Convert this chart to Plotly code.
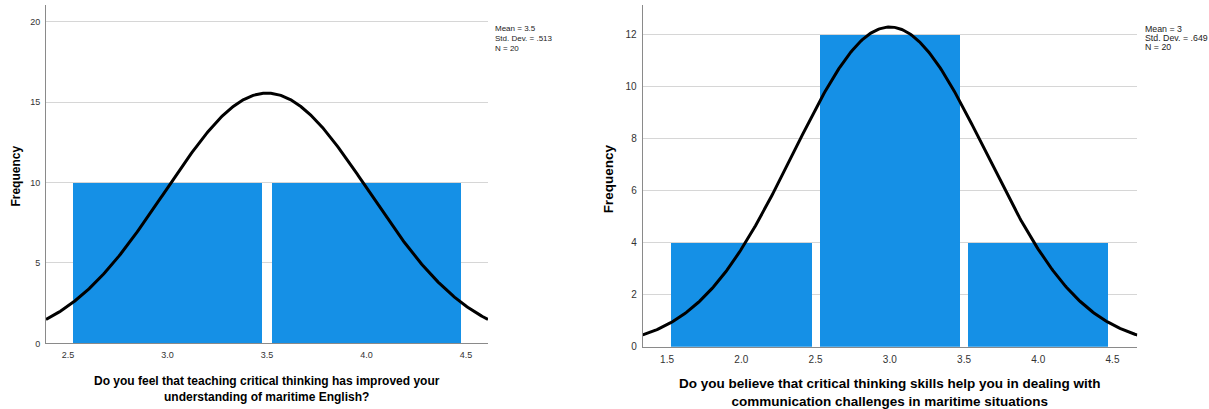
import numpy as np
import plotly.graph_objects as go

W, H = 1209, 409
YK = 1.0153   # small vertical correction measured from the rendered output

# ---------------- data ----------------
# Left histogram
left_bins = [3.0, 4.0]            # bin centres (bins 2.5-3.5, 3.5-4.5)
left_freq = [10, 10]
left_mean, left_sd, left_n = 3.5, 0.513, 20
left_xticks = [2.5, 3.0, 3.5, 4.0, 4.5]
left_yticks = [0, 5, 10, 15, 20]
left_stats = ["Mean = 3.5", "Std. Dev. = .513", "N = 20"]
left_title = "Do you feel that teaching critical thinking has improved your<br>understanding of maritime English?"

# Right histogram
right_bins = [2.0, 3.0, 4.0]
right_freq = [4, 12, 4]
right_mean, right_sd, right_n = 3.0, 0.649, 20
right_xticks = [1.5, 2.0, 2.5, 3.0, 3.5, 4.0, 4.5]
right_yticks = [0, 2, 4, 6, 8, 10, 12]
right_stats = ["Mean = 3", "Std. Dev. = .649", "N = 20"]
right_title = "Do you believe that critical thinking skills help you in dealing with<br>communication challenges in maritime situations"

bin_width = 1.0
y_label = "Frequency"

# ---------------- style / layout constants ----------------
BAR_COLOR = "#1590e6"
GRID = "#d6d6d6"
AXLINE = "#8a8a8a"
TICKC = "#333333"
FONT = "Liberation Sans, Arial, sans-serif"

L_XR = [2.389, 4.611]
L_YR = [0, 21.03]
R_XR = [1.336, 4.667]
R_YR = [0, 13.14]


def px(x):
    return x / W


def py(y):
    return min(1.0, max(0.0, 1 - (y * YK) / H))


def normal_curve(mean, sd, n, xr):
    xs = np.linspace(xr[0], xr[1], 400)
    ys = n * bin_width * np.exp(-0.5 * ((xs - mean) / sd) ** 2) / (sd * np.sqrt(2 * np.pi))
    return xs, ys


fig = go.Figure()

fig.add_trace(go.Bar(x=left_bins, y=left_freq, width=0.946, marker=dict(color=BAR_COLOR, line=dict(width=0)),
                     xaxis="x", yaxis="y", showlegend=False, hoverinfo="skip"))
lx, ly = normal_curve(left_mean, left_sd, left_n, L_XR)
fig.add_trace(go.Scatter(x=lx, y=ly, mode="lines", line=dict(color="black", width=3),
                         xaxis="x", yaxis="y", showlegend=False, hoverinfo="skip"))

fig.add_trace(go.Bar(x=right_bins, y=right_freq, width=0.946, marker=dict(color=BAR_COLOR, line=dict(width=0)),
                     xaxis="x2", yaxis="y2", showlegend=False, hoverinfo="skip"))
rx, ry = normal_curve(right_mean, right_sd, right_n, R_XR)
fig.add_trace(go.Scatter(x=rx, y=ry, mode="lines", line=dict(color="black", width=3),
                         xaxis="x2", yaxis="y2", showlegend=False, hoverinfo="skip"))

common_x = dict(showline=True, linecolor=AXLINE, linewidth=1, showgrid=False, zeroline=False,
                ticks="", tickformat=".1f")
common_y = dict(showline=True, linecolor=AXLINE, linewidth=1, showgrid=True, gridcolor=GRID, gridwidth=1,
                zeroline=False, ticks="")

fig.update_layout(
    width=W, height=H,
    margin=dict(l=0, r=0, t=0, b=0),
    paper_bgcolor="white", plot_bgcolor="white",
    font=dict(family=FONT, color=TICKC),
    bargap=0,
    xaxis=dict(**common_x, domain=[px(46), px(488)], range=L_XR, tickvals=left_xticks,
               tickfont=dict(size=9, color=TICKC), anchor="y", ticklabelstandoff=3),
    yaxis=dict(**common_y, domain=[py(343.3), py(5)], range=L_YR, tickvals=left_yticks,
               tickfont=dict(size=9, color=TICKC), anchor="x", ticklabelstandoff=3),
    xaxis2=dict(**common_x, domain=[px(642.7), px(1137.3)], range=R_XR, tickvals=right_xticks,
                tickfont=dict(size=10, color=TICKC), anchor="y2", ticklabelstandoff=3),
    yaxis2=dict(**common_y, domain=[py(346.7), py(5)], range=R_YR, tickvals=right_yticks,
                tickfont=dict(size=10, color=TICKC), anchor="x2", ticklabelstandoff=3),
)

ann = []
# statistics text
for t, yy in zip(left_stats, [28, 38.5, 48]):
    ann.append(dict(text=t, x=px(493.3), y=py(yy), xref="paper", yref="paper", xanchor="left", yanchor="middle",
                    showarrow=False, font=dict(size=8, color="#222222", family=FONT)))
for t, yy in zip(right_stats, [29.3, 38.3, 47.3]):
    ann.append(dict(text=t, x=px(1143.3), y=py(yy), xref="paper", yref="paper", xanchor="left", yanchor="middle",
                    showarrow=False, font=dict(size=8.8, color="#222222", family=FONT)))
# y titles
ann.append(dict(text="<b>" + y_label + "</b>", x=px(16), y=py(176.5), xref="paper", yref="paper",
                xanchor="center", yanchor="middle", textangle=-90, showarrow=False,
                font=dict(size=12, color="black", family=FONT)))
ann.append(dict(text="<b>" + y_label + "</b>", x=px(608.3), y=py(179), xref="paper", yref="paper",
                xanchor="center", yanchor="middle", textangle=-90, showarrow=False,
                font=dict(size=13.5, color="black", family=FONT)))
# x titles
ann.append(dict(text="<b>" + left_title + "</b>", x=px(267), y=py(388.8), xref="paper", yref="paper",
                xanchor="center", yanchor="middle", showarrow=False,
                font=dict(size=12, color="black", family=FONT)))
ann.append(dict(text="<b>" + right_title + "</b>", x=px(890), y=py(392), xref="paper", yref="paper",
                xanchor="center", yanchor="middle", showarrow=False,
                font=dict(size=13.5, color="black", family=FONT)))
fig.update_layout(annotations=ann)

# remove the default 8px page margin so the figure fills the window exactly
fig.write_html("out.html", config={"displayModeBar": False, "staticPlot": True},
               post_script="document.body.style.margin='0';document.body.style.overflow='hidden';")
